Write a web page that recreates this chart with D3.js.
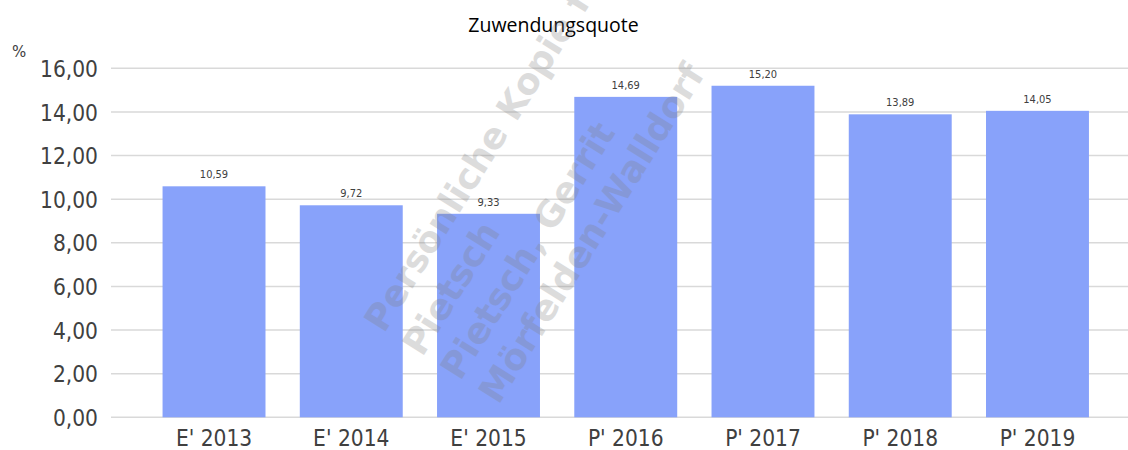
<!DOCTYPE html>
<html>
<head>
<meta charset="utf-8">
<script src="https://cdn.jsdelivr.net/npm/d3@7"></script>
<style>
  body { margin: 0; background: #fff; }
  svg { display: block; }
</style>
</head>
<body>
<div id="chart"></div>
<script>
const width = 1128;
const height = 450;

// data
const categories = ["E' 2013", "E' 2014", "E' 2015", "P' 2016", "P' 2017", "P' 2018", "P' 2019"];
const values = [10.59, 9.72, 9.33, 14.69, 15.20, 13.89, 14.05];
const yTicks = [0, 2, 4, 6, 8, 10, 12, 14, 16];
const watermarkLines = ['Persönliche Kopie für', 'Pietsch', 'Pietsch, Gerrit', 'Mörfelden-Walldorf'];

const fmt = v => d3.format('.2f')(v).replace('.', ',');
const font = "'DejaVu Sans Condensed', 'DejaVu Sans', sans-serif";

const svg = d3.select('#chart')
    .append('svg')
    .attr('width', width)
    .attr('height', height);

const x = d3.scaleBand()
    .domain(categories)
    .range([145.4, 1106.1])
    .paddingInner(0.25)
    .paddingOuter(0.125);

const y = d3.scaleLinear()
    .domain([0, 16])
    .range([417.3, 68.3]);

// gridlines
svg.append('g')
    .selectAll('line')
    .data(yTicks)
    .enter()
    .append('line')
    .attr('x1', 111)
    .attr('x2', width)
    .attr('y1', d => y(d))
    .attr('y2', d => y(d))
    .style('stroke', '#d9d9d9')
    .style('stroke-width', 1.5);

// y axis labels
const yAxis = svg.append('g')
    .attr('transform', 'translate(98,0)')
    .call(d3.axisLeft(y).tickValues(yTicks).tickFormat(fmt).tickSize(0).tickPadding(0));
yAxis.select('.domain').remove();
yAxis.selectAll('text')
    .attr('dy', '0.36em')
    .style('font-family', font)
    .style('font-size', '22.5px')
    .style('fill', '#404040');

// x axis labels
const xAxis = svg.append('g')
    .attr('transform', 'translate(0,430)')
    .call(d3.axisBottom(x).tickSize(0).tickPadding(0));
xAxis.select('.domain').remove();
xAxis.selectAll('text')
    .attr('dy', '0.71em')
    .style('font-family', font)
    .style('font-size', '22.5px')
    .style('fill', '#404040');

// bars
svg.append('g')
    .selectAll('rect')
    .data(values)
    .enter()
    .append('rect')
    .attr('x', (d, i) => x(categories[i]))
    .attr('width', x.bandwidth())
    .attr('y', d => y(d))
    .attr('height', d => y(0) - y(d))
    .style('fill', '#88a2fa');

// value labels
svg.append('g')
    .selectAll('text')
    .data(values)
    .enter()
    .append('text')
    .attr('x', (d, i) => x(categories[i]) + x.bandwidth() / 2)
    .attr('y', d => y(d) - 8)
    .attr('text-anchor', 'middle')
    .style('font-family', font)
    .style('font-size', '11px')
    .style('fill', '#404040')
    .text(fmt);

// title
svg.append('text')
    .attr('x', 553.5)
    .attr('y', 32)
    .attr('text-anchor', 'middle')
    .style('font-family', "'Open Sans', sans-serif")
    .style('font-size', '19.5px')
    .style('fill', '#000')
    .text('Zuwendungsquote');

// unit
svg.append('text')
    .attr('x', 12)
    .attr('y', 57)
    .style('font-family', "'DejaVu Sans', sans-serif")
    .style('font-size', '15px')
    .style('fill', '#404040')
    .text('%');

// watermark
const wm = svg.append('g')
    .attr('transform', 'translate(384,334) rotate(-58)');
wm.selectAll('text')
    .data(watermarkLines)
    .enter()
    .append('text')
    .attr('x', 0)
    .attr('y', (d, i) => i * 45)
    .style('font-family', "'DejaVu Sans', sans-serif")
    .style('font-weight', 'bold')
    .style('font-size', '36px')
    .style('fill', '#808080')
    .style('opacity', 0.27)
    .text(d => d);
</script>
</body>
</html>
